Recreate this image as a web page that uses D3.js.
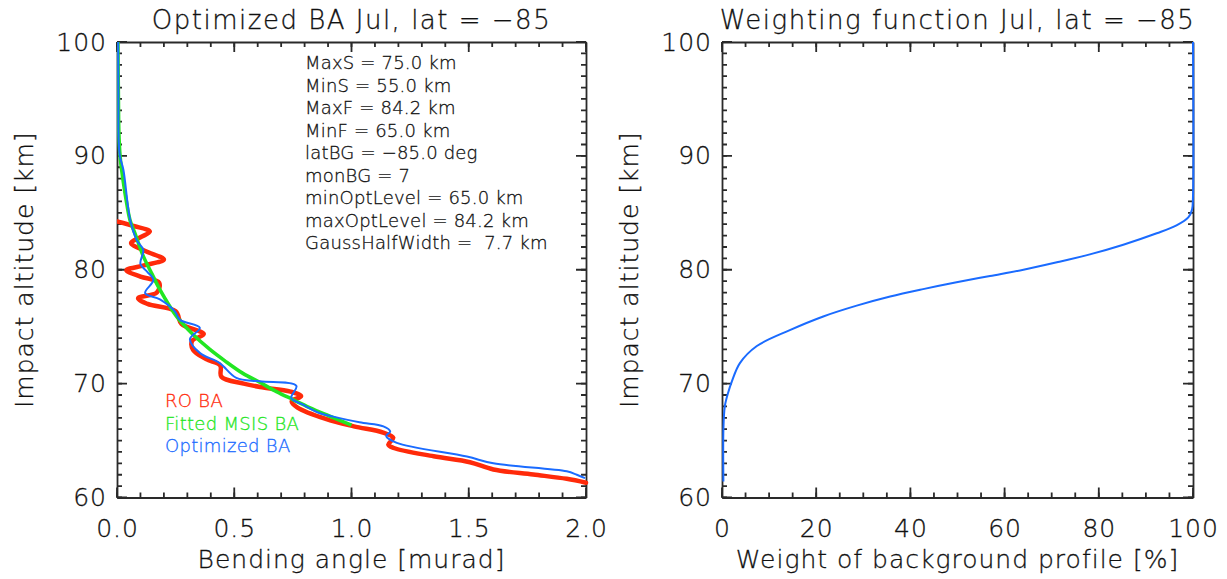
<!DOCTYPE html>
<html>
<head>
<meta charset="utf-8">
<script src="https://cdn.jsdelivr.net/npm/d3@7/dist/d3.min.js"></script>
<style>
  html, body { margin: 0; padding: 0; background: #fff; }
  svg { display: block; }
  text { font-family: "DejaVu Sans", "Liberation Sans", sans-serif; font-weight: 200; fill: #111;
         stroke: #111; stroke-width: 0.3px; white-space: pre; }
</style>
</head>
<body>
<svg id="chart" width="1227" height="579"></svg>
<script>
// ---- Bending angle profiles: [bending angle (murad), impact altitude (km)] ----
const roBA = [
  [0.00, 84.25], [0.07, 83.85], [0.14, 83.35], [0.10, 82.85], [0.06, 82.35],
  [0.12, 81.65], [0.20, 80.90], [0.12, 80.40], [0.04, 79.95], [0.10, 79.40],
  [0.18, 78.85], [0.17, 78.00], [0.09, 77.50], [0.13, 77.00], [0.25, 76.35],
  [0.275, 75.25], [0.37, 74.35], [0.32, 73.75], [0.325, 72.95], [0.38, 72.15],
  [0.44, 71.60], [0.445, 70.60], [0.54, 70.00], [0.61, 69.70], [0.74, 69.30],
  [0.785, 68.90], [0.745, 68.45], [0.77, 67.90], [0.89, 66.90], [1.01, 66.25],
  [1.135, 65.70], [1.178, 65.25], [1.157, 64.65], [1.18, 64.35], [1.35, 63.62],
  [1.505, 63.10], [1.605, 62.46], [1.775, 62.02], [1.918, 61.64], [2.00, 61.30]
];
const fittedMsisBA = [
  [0.004, 100.0], [0.006, 95.0], [0.008, 92.0], [0.013, 90.0], [0.025, 88.0],
  [0.040, 86.0], [0.055, 84.4], [0.080, 83.0], [0.112, 81.2], [0.150, 79.6],
  [0.183, 78.25], [0.254, 75.9], [0.320, 74.4], [0.396, 73.0], [0.460, 72.0],
  [0.537, 70.9], [0.610, 70.1], [0.680, 69.3], [0.750, 68.6], [0.821, 67.9],
  [0.900, 67.2], [1.000, 66.35]
];
const optimizedBA = [
  [0.005, 100.0], [0.006, 95.0], [0.007, 91.4], [0.012, 90.0], [0.027, 88.8],
  [0.056, 84.4], [0.084, 82.6], [0.112, 81.75], [0.100, 80.5], [0.130, 79.8],
  [0.155, 79.1], [0.120, 77.95], [0.183, 77.4], [0.247, 76.35], [0.268, 75.6],
  [0.353, 74.9], [0.311, 73.9], [0.353, 72.7], [0.438, 71.8], [0.509, 70.5],
  [0.609, 70.2], [0.765, 69.8], [0.743, 68.75], [0.793, 68.15], [0.866, 67.4],
  [0.923, 67.1], [1.034, 66.6], [1.136, 66.25], [1.165, 65.8], [1.148, 65.4],
  [1.193, 64.8], [1.492, 63.6], [1.605, 63.0], [1.918, 62.3], [1.961, 62.0],
  [1.996, 61.7]
];

// ---- Background weighting: [weight (%), impact altitude (km)] ----
const bgWeight = [
  [0.3, 61.4], [0.3, 66.0], [0.6, 68.0], [1.3, 69.2], [2.1, 70.2], [3.8, 71.8],
  [7.4, 73.3], [14.4, 74.7], [21.5, 75.9], [28.6, 76.85], [35.7, 77.65],
  [42.7, 78.3], [49.8, 78.9], [56.9, 79.45], [64.0, 80.0], [71.1, 80.65],
  [78.1, 81.35], [85.2, 82.2], [92.3, 83.2], [96.5, 83.9], [99.0, 84.6],
  [99.8, 85.3], [100.0, 86.5], [100.0, 100.0]
];

// ---- Axis ticks ----
const baMajorTicks = [0.0, 0.5, 1.0, 1.5, 2.0];
const baMinorTicks = d3.range(0, 2.0001, 0.1);
const altMajorTicks = [60, 70, 80, 90, 100];
const altMinorTicks = d3.range(60, 100.001, 1);
const weightMajorTicks = [0, 20, 40, 60, 80, 100];
const weightMinorTicks = d3.range(0, 100.001, 5);

// ---- Annotation and legend text ----
const settingsLines = [
  "MaxS = 75.0 km", "MinS = 55.0 km", "MaxF = 84.2 km", "MinF = 65.0 km",
  "latBG = \u221285.0 deg", "monBG = 7", "minOptLevel = 65.0 km",
  "maxOptLevel = 84.2 km", "GaussHalfWidth =  7.7 km"
];
const legendItems = [
  { label: "RO BA", color: "#ff2a0a" },
  { label: "Fitted MSIS BA", color: "#22e622" },
  { label: "Optimized BA", color: "#1a6bff" }
];

const svg = d3.select("#chart");
const plotTop = 42, plotBottom = 497.5;
const left1 = 117, right1 = 586;
const left2 = 722, right2 = 1193;

const yAlt = d3.scaleLinear().domain([60, 100]).range([plotBottom, plotTop]);
const xBA = d3.scaleLinear().domain([0, 2]).range([left1, right1]);
const xW = d3.scaleLinear().domain([0, 100]).range([left2, right2]);

const axisInk = "#2a2a2a";

// tick labels outside the edge, plus the edge line itself
function labelledEdge(g, axisFn, scale, values, fmt, pad, pos) {
  const s = g.append("g").attr("transform", pos)
    .call(axisFn(scale).tickValues(values).tickSize(0).tickPadding(pad).tickFormat(fmt));
  s.select(".domain").attr("stroke", axisInk).attr("stroke-width", 1.8);
  s.selectAll(".tick text")
    .attr("font-family", "DejaVu Sans, sans-serif")
    .attr("font-weight", 200)
    .attr("font-size", 25)
    .attr("letter-spacing", 1)
    .attr("fill", "#111");
  return s;
}
// bare edge line (top / right sides of the box)
function plainEdge(g, axisFn, scale, pos) {
  const s = g.append("g").attr("transform", pos)
    .call(axisFn(scale).tickValues([]).tickSize(0));
  s.select(".domain").attr("stroke", axisInk).attr("stroke-width", 1.8);
}
// inward tick marks along one edge, one stroked path per tick set
function edgeTicks(g, values, toSeg) {
  g.append("path")
    .attr("d", values.map(toSeg).join(""))
    .attr("fill", "none")
    .attr("stroke", axisInk)
    .attr("stroke-width", 1.8);
}

function drawFrame(x, y, majorsX, minorsX, fmtX) {
  const g = svg.append("g");
  const xl = x.range()[0], xr = x.range()[1];
  labelledEdge(g, d3.axisBottom, x, majorsX, fmtX, 22, `translate(0,${plotBottom})`);
  labelledEdge(g, d3.axisLeft, y, altMajorTicks, d3.format("d"), 10, `translate(${xl},0)`);
  plainEdge(g, d3.axisTop, x, `translate(0,${plotTop})`);
  plainEdge(g, d3.axisRight, y, `translate(${xr},0)`);
  [[minorsX, 5], [majorsX, 10]].forEach(([vals, len]) => {
    edgeTicks(g, vals, v => `M${x(v)},${plotBottom}v${-len}`);
    edgeTicks(g, vals, v => `M${x(v)},${plotTop}v${len}`);
  });
  [[altMinorTicks, 5], [altMajorTicks, 10]].forEach(([vals, len]) => {
    edgeTicks(g, vals, v => `M${xl},${y(v)}h${len}`);
    edgeTicks(g, vals, v => `M${xr},${y(v)}h${-len}`);
  });
  return g;
}

drawFrame(xBA, yAlt, baMajorTicks, baMinorTicks, d3.format(".1f"));
drawFrame(xW, yAlt, weightMajorTicks, weightMinorTicks, d3.format("d"));

// titles
function title(txt, cx) {
  svg.append("text").attr("x", cx).attr("y", 29)
    .attr("text-anchor", "middle").attr("font-size", 26).attr("letter-spacing", 1.5)
    .text(txt);
}
title("Optimized BA Jul, lat = \u221285", (left1 + right1) / 2);
title("Weighting function Jul, lat = \u221285", (left2 + right2) / 2);

function xTitle(txt, cx) {
  svg.append("text").attr("x", cx).attr("y", 568)
    .attr("text-anchor", "middle").attr("font-size", 25).attr("letter-spacing", 1)
    .text(txt);
}
xTitle("Bending angle [murad]", (left1 + right1) / 2);
xTitle("Weight of background profile [%]", (left2 + right2) / 2);

function yTitle(txt, bx) {
  svg.append("text")
    .attr("transform", `translate(${bx},${(plotTop + plotBottom) / 2}) rotate(-90)`)
    .attr("text-anchor", "middle").attr("font-size", 25).attr("letter-spacing", 1)
    .text(txt);
}
yTitle("Impact altitude [km]", 33);
yTitle("Impact altitude [km]", 638);

// clip for the left panel curves
svg.append("clipPath").attr("id", "clipLeft")
  .append("rect").attr("x", left1).attr("y", plotTop - 2)
  .attr("width", right1 - left1 + 3).attr("height", plotBottom - plotTop + 4);

const lineBA = d3.line()
  .x(d => xBA(d[0])).y(d => yAlt(d[1]))
  .curve(d3.curveCatmullRom.alpha(0.5));

const curves = svg.append("g").attr("clip-path", "url(#clipLeft)");
curves.append("path").datum(roBA).attr("d", lineBA)
  .attr("fill", "none").attr("stroke", legendItems[0].color)
  .attr("stroke-width", 4.5).attr("stroke-linejoin", "round").attr("stroke-linecap", "round");
curves.append("path").datum(fittedMsisBA).attr("d", lineBA)
  .attr("fill", "none").attr("stroke", legendItems[1].color)
  .attr("stroke-width", 3.6).attr("stroke-linejoin", "round");
curves.append("path").datum(optimizedBA).attr("d", lineBA)
  .attr("fill", "none").attr("stroke", legendItems[2].color)
  .attr("stroke-width", 2).attr("stroke-linejoin", "round");

// settings text block
svg.append("g").selectAll("text").data(settingsLines).join("text")
  .attr("x", 305).attr("y", (d, i) => 69.3 + i * 22.5)
  .attr("font-size", 18).attr("letter-spacing", 0.2)
  .text(d => d);

// legend
svg.append("g").selectAll("text").data(legendItems).join("text")
  .attr("x", 165).attr("y", (d, i) => 407 + i * 22.5)
  .attr("font-size", 18).attr("letter-spacing", 0.3)
  .style("fill", d => d.color).style("stroke", d => d.color)
  .text(d => d.label);

// weighting function curve
const lineW = d3.line()
  .x(d => xW(d[0])).y(d => yAlt(d[1]))
  .curve(d3.curveCatmullRom.alpha(0.5));
svg.append("path").datum(bgWeight).attr("d", lineW)
  .attr("fill", "none").attr("stroke", "#1a6bff").attr("stroke-width", 2);
</script>
</body>
</html>
